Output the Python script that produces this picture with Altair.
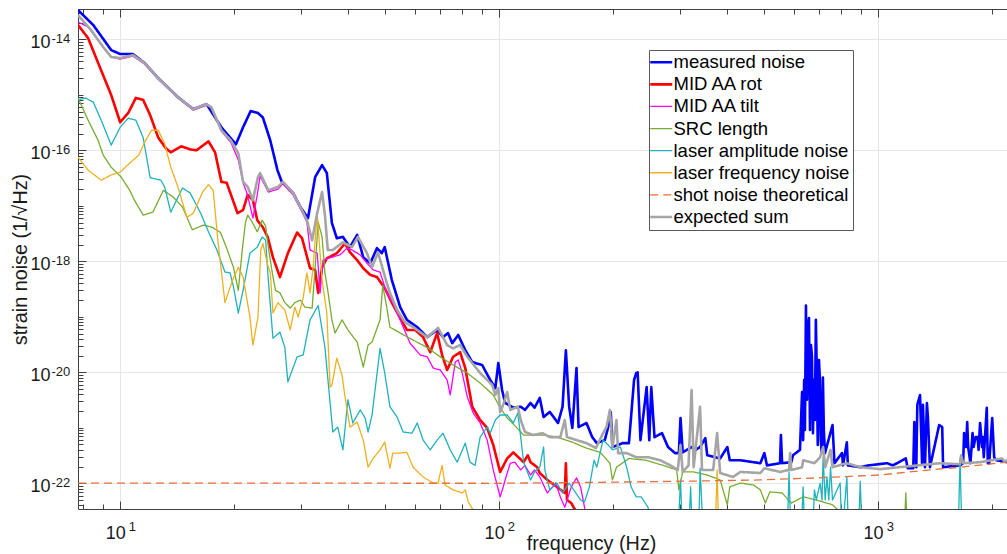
import altair as alt
import pandas as pd

# ---------------- data (frequency in Hz, strain noise in 1/sqrt(Hz)) ----------------
measured_noise = [
    (7.74, 3.37e-14), (8.49, 1.81e-14), (9.47, 6.4e-15), (10.0, 5.43e-15), (10.8, 5.43e-15), (11.6, 3.74e-15),
    (12.6, 2.0e-15), (14.2, 9.1e-16), (15.6, 5.5e-16), (16.9, 6.8e-16), (18.5, 2.6e-16), (20.2, 1.28e-16),
    (21.1, 2.6e-16), (22.1, 5.1e-16), (23.1, 4.7e-16), (23.8, 3.9e-16), (24.9, 1.5e-16), (26.0, 4.4e-17),
    (26.7, 2.7e-17), (28.6, 1.7e-17), (29.9, 9.5e-18), (31.3, 6.0e-18), (32.7, 3.3e-17), (34.1, 5.4e-17),
    (35.1, 3.9e-17), (36.2, 4.9e-18), (37.3, 2.6e-18), (38.7, 2.75e-18), (40.4, 1.8e-18), (42.2, 3.0e-18),
    (43.8, 1.18e-18), (45.7, 9.2e-19), (47.6, 1.73e-18), (49.0, 1.4e-18), (49.9, 1.8e-18), (52.1, 4.6e-19),
    (54.8, 1.5e-19), (57.1, 8.8e-20), (60.8, 6.5e-20), (64.6, 4.3e-20), (68.6, 5.8e-20), (71.1, 4.3e-20),
    (73.3, 5.1e-20), (75.2, 3.35e-20), (78.0, 4.7e-20), (81.4, 2.5e-20), (84.9, 1.53e-20), (90.2, 1.35e-20),
    (94.7, 7.3e-21), (97.7, 5.2e-21), (99.5, 1.47e-20), (101.8, 4.8e-21), (103.7, 2.8e-21), (109, 2.3e-21),
    (114, 2.4e-21), (117, 2.1e-21), (121, 2.8e-21), (124, 2.3e-21), (128, 3.45e-21), (131, 1.56e-21),
    (136, 1.93e-21), (143, 1.22e-21), (147, 2.4e-21), (150, 2.5e-20), (153, 2.4e-21), (156, 9.9e-22),
    (160, 1.19e-20), (162, 1.03e-21), (170, 1.22e-21), (176, 6.8e-22), (181, 5.3e-22), (190, 6.0e-22),
    (194, 1.03e-21), (197, 1.93e-21), (199, 4.5e-22), (212, 5.3e-22), (220, 5.3e-22), (227, 7.3e-21),
    (230, 9.7e-21), (232, 1.0e-20), (236, 6.0e-22), (245, 5.4e-21), (249, 6.0e-22), (252, 5.4e-21),
    (257, 6.8e-22), (269, 8.0e-22), (279, 4.5e-22), (291, 3.5e-22), (298, 3.5e-22), (301, 1.5e-21),
    (305, 3.6e-22), (322, 4.5e-22), (330, 4.0e-22), (339, 4.5e-22), (350, 6.5e-22), (354, 3.2e-22),
    (371, 2.95e-22), (383, 2.8e-22), (400, 4.5e-22), (406, 2.6e-22), (433, 2.6e-22), (489, 2.3e-22),
    (501, 3.5e-22), (509, 2.1e-22), (551, 2.3e-22), (554, 7.4e-22), (558, 2.3e-22), (590, 2.4e-22),
    (596, 3.2e-22), (622, 4.0e-22), (626, 1.38e-21), (630, 4.4e-21), (634, 6.0e-22), (638, 7.3e-21),
    (641, 9.1e-22), (645, 1.6e-19), (649, 3.2e-21), (653, 5.8e-20), (657, 9.5e-20), (661, 9.1e-22),
    (665, 3.1e-20), (669, 1.9e-20), (673, 8.0e-22), (677, 7.3e-21), (681, 1.38e-21), (685, 8.8e-20),
    (689, 9.7e-21), (693, 4.9e-22), (698, 1.67e-20), (702, 7.3e-21), (706, 6.0e-22), (710, 3.5e-22),
    (715, 8.0e-21), (719, 9.1e-22), (724, 3.5e-22), (758, 1.12e-21), (767, 2.3e-22), (803, 3.5e-22),
    (808, 2.1e-22), (827, 5.5e-22), (832, 2.1e-22), (897, 1.95e-22), (943, 2.1e-22), (1056, 2.3e-22),
    (1094, 2.1e-22), (1183, 2.8e-22), (1197, 1.87e-22), (1238, 1.87e-22), (1246, 1.27e-21), (1261, 1.95e-22),
    (1269, 2.6e-21), (1290, 3.9e-21), (1306, 2.3e-22), (1313, 2.6e-21), (1329, 1.95e-22), (1345, 2.8e-21),
    (1353, 1.56e-21), (1370, 1.95e-22), (1449, 1.12e-21), (1476, 1.03e-21), (1484, 1.95e-22), (1645, 2.1e-22),
    (1676, 2.3e-22), (1686, 8.0e-22), (1707, 4.5e-22), (1718, 1.27e-21), (1728, 4.5e-22), (1752, 2.3e-22),
    (1775, 8.0e-22), (1786, 4.5e-22), (1808, 6.8e-22), (1830, 6.8e-22), (1841, 4.0e-22), (1858, 1.22e-21),
    (1880, 4.5e-22), (1889, 6.8e-22), (1900, 2.95e-22), (1935, 2.3e-21), (1947, 2.3e-22), (1964, 2.3e-22),
    (2000, 1.5e-21), (2024, 2.95e-22), (2049, 2.6e-22), (2188, 2.4e-22),
]

mid_aa_rot = [
    (7.74, 1.81e-14), (8.23, 1.05e-14), (8.75, 3.74e-15), (9.47, 9.9e-16), (10.0, 3.2e-16), (10.5, 4.7e-16),
    (11.0, 8.8e-16), (11.5, 8.1e-16), (12.0, 4.3e-16), (12.6, 1.7e-16), (13.2, 1.09e-16), (13.6, 9.2e-17),
    (14.5, 1.18e-16), (15.3, 1.04e-16), (15.9, 1.0e-16), (17.1, 1.45e-16), (17.8, 9.2e-17), (18.5, 2.7e-17),
    (19.1, 2.6e-17), (20.4, 7.4e-18), (21.1, 8.4e-18), (21.7, 1.57e-17), (22.4, 1.27e-17), (23.0, 5.5e-18),
    (23.8, 4.1e-18), (24.5, 2.75e-18), (25.3, 1.18e-18), (26.4, 5.2e-19), (27.7, 1.4e-18), (29.3, 3.3e-18),
    (30.2, 2.6e-18), (31.7, 7.5e-19), (32.7, 7.0e-19), (33.3, 2.7e-19), (34.1, 7.8e-19), (35.1, 1.13e-18),
    (37.3, 1.4e-18), (39.2, 2.1e-18), (40.4, 1.45e-18), (42.2, 1.05e-18), (43.8, 7.5e-19), (45.7, 5.7e-19),
    (47.6, 5.2e-19), (49.9, 3.3e-19), (52.1, 1.8e-19), (54.8, 9.5e-20), (57.1, 5.8e-20), (60.0, 5.8e-20),
    (63.0, 4.3e-20), (65.8, 2.3e-20), (68.6, 5.1e-20), (70.7, 2.05e-20), (72.9, 1.1e-20), (75.6, 1.9e-20),
    (78.9, 2.3e-20), (81.4, 1.19e-20), (84.9, 2.4e-21), (89.1, 1.38e-21), (93.0, 9.9e-22), (96.5, 4.9e-22),
    (100.6, 1.6e-22), (105, 2.8e-22), (109, 3.6e-22), (112.4, 2.95e-22), (116, 2.4e-22), (119, 3.2e-22),
    (121, 2.4e-22), (126, 1.95e-22), (128, 1.53e-22), (134, 1.15e-22), (142, 8.6e-23), (149, 6.7e-23),
    (150, 2.3e-22), (151, 5.0e-23), (155, 4.4e-23), (160, 3.0e-23), (173, 1e-23),
]

mid_aa_tilt = [
    (7.74, 2.05e-14), (8.23, 1.67e-14), (9.02, 7.26e-15), (9.47, 4.8e-15), (10.0, 4.4e-15), (10.8, 5.0e-15),
    (11.6, 3.6e-15), (12.6, 1.93e-15), (14.2, 8.8e-16), (15.6, 5.3e-16), (16.9, 6.5e-16), (17.4, 5.8e-16),
    (18.5, 2.2e-16), (19.6, 1.39e-16), (20.5, 6.7e-17), (21.1, 2.6e-17), (21.6, 1.7e-17), (22.0, 1.03e-17),
    (22.4, 6.0e-18), (23.0, 1.57e-17), (23.4, 3.45e-17), (24.6, 1.77e-17), (26.1, 2.0e-17), (26.9, 2.5e-17),
    (28.6, 1.57e-17), (29.9, 8.8e-18), (31.1, 5.1e-18), (31.7, 1.6e-18), (33.1, 1.4e-18), (33.7, 2.7e-19),
    (34.3, 1.05e-18), (35.3, 1.13e-18), (38.0, 1.3e-18), (39.7, 1.73e-18), (40.9, 1.6e-18), (43.0, 1.3e-18),
    (44.8, 9.2e-19), (46.5, 7.0e-19), (48.5, 6.4e-19), (50.5, 2.7e-19), (52.4, 1.8e-19), (54.8, 8.8e-20),
    (58.2, 3.35e-20), (61.9, 2.05e-20), (64.6, 1.9e-20), (67.0, 1.19e-20), (69.9, 1.1e-20), (72.9, 7.3e-21),
    (74.3, 3.9e-21), (76.6, 1.53e-20), (78.0, 1.67e-20), (79.9, 9.7e-21), (82.4, 3.6e-21), (85.4, 1.85e-21),
    (89.1, 1.22e-21), (93.0, 6.0e-22), (96.5, 1.74e-22), (100.6, 5.7e-23), (102.5, 8.6e-23), (103.7, 1.15e-22),
    (107, 2.3e-22), (110, 2.4e-22), (114, 1.74e-22), (117, 2.1e-22), (121, 1.41e-22), (124, 1.74e-22),
    (128, 1.3e-22), (134, 6.7e-23), (141, 1.01e-22), (145, 5.7e-23), (149, 3.7e-23), (155, 8.6e-23),
    (160, 1.25e-22), (164, 8.6e-23), (168, 3.7e-23), (173, 1e-23),
]

src_length = [
    (7.74, 8.8e-16), (8.23, 3.5e-16), (8.75, 1.5e-16), (9.02, 8.2e-17), (9.47, 4.96e-17), (10.06, 3.3e-17),
    (10.6, 1.9e-17), (10.9, 1.27e-17), (11.5, 6.8e-18), (12.2, 7.7e-18), (13.0, 1.9e-17), (13.8, 1.44e-17),
    (14.6, 9.5e-18), (15.5, 3.7e-18), (16.6, 4.5e-18), (17.5, 4.1e-18), (18.4, 3.3e-18), (19.1, 1.73e-18),
    (19.9, 7.8e-19), (20.5, 3.0e-19), (21.0, 1.6e-18), (21.4, 4.9e-18), (21.7, 6.8e-18), (22.3, 5.1e-18),
    (23.0, 3.4e-18), (23.7, 5.5e-18), (24.2, 4.3e-18), (24.6, 1.8e-18), (25.2, 6.2e-19), (25.7, 3.0e-19),
    (26.4, 2.7e-19), (27.2, 1.8e-19), (28.1, 1.43e-19), (28.9, 1.8e-19), (29.9, 2.0e-19), (30.7, 1.5e-19),
    (32.1, 1.43e-19), (32.7, 7.8e-19), (33.3, 5.1e-18), (34.1, 2.75e-18), (34.7, 6.2e-19), (35.3, 3.0e-19),
    (36.2, 8.8e-20), (36.9, 5.1e-20), (38.5, 8.8e-20), (39.9, 5.8e-20), (42.2, 3.5e-20), (43.8, 1.24e-20),
    (45.1, 3.1e-20), (46.2, 3.5e-20), (48.5, 8.8e-20), (49.3, 3.7e-19), (50.5, 1.5e-19), (51.5, 6.5e-20),
    (54.8, 5.1e-20), (59.3, 3.8e-20), (64.6, 2.8e-20), (69.9, 1.9e-20), (75.6, 1.35e-20), (82.4, 9.7e-21),
    (89.1, 6.4e-21), (96.5, 3.9e-21), (100.6, 2.3e-21), (105, 1.5e-21), (109, 1.17e-21), (116, 7.4e-22),
    (131, 7.4e-22), (142, 6.8e-22), (156, 5.5e-22), (170, 4.3e-22), (185, 3.6e-22), (196, 2.3e-22),
    (199, 1.15e-22), (204, 1.95e-22), (220, 2.8e-22), (244, 2.6e-22), (271, 2.1e-22), (294, 1.74e-22),
    (298, 7.6e-23), (305, 1.6e-22), (326, 1.6e-22), (354, 1.41e-22), (383, 1.15e-22), (400, 4.1e-23),
    (406, 8.6e-23), (433, 1.01e-22), (469, 9.3e-23), (489, 7.6e-23), (504, 4.4e-23), (518, 7.0e-23),
    (558, 6.7e-23), (590, 4.4e-23), (634, 5.7e-23), (687, 5.0e-23), (758, 4.1e-23), (803, 2.8e-23),
    (845, 1e-23), (1170, 1e-23), (1183, 6.7e-23), (1197, 1e-23), (2188, 1e-23),
]

laser_amplitude = [
    (7.74, 8.1e-16), (8.09, 8.8e-16), (8.49, 7.4e-16), (8.91, 3.5e-16), (9.47, 1.24e-16), (10.0, 2.6e-16),
    (10.5, 3.8e-16), (11.0, 3.5e-16), (11.5, 1.7e-16), (12.0, 3.2e-17), (12.8, 2.9e-17), (13.1, 2.2e-17),
    (13.6, 7.7e-18), (14.6, 2.1e-17), (15.3, 1.7e-17), (16.3, 7.4e-18), (17.1, 3.4e-18), (18.0, 1.6e-18),
    (18.9, 6.4e-19), (19.5, 6.2e-19), (19.9, 3.5e-19), (20.5, 1.17e-19), (21.1, 3.0e-19), (22.0, 1.4e-18),
    (23.0, 1.8e-18), (23.7, 2.75e-18), (24.2, 2.4e-18), (24.6, 4.6e-19), (25.3, 4.1e-20), (26.4, 5.3e-20),
    (27.2, 2.8e-20), (27.7, 6.7e-21), (29.3, 1.9e-20), (30.4, 2.05e-20), (31.7, 8.8e-20), (33.3, 1.6e-19),
    (34.7, 2.8e-20), (36.4, 8.4e-22), (37.5, 1.03e-21), (38.7, 4.0e-22), (39.9, 3.2e-21), (41.1, 1.22e-21),
    (43.0, 2.1e-21), (44.3, 1.5e-21), (45.1, 8.4e-22), (46.2, 1.7e-21), (48.5, 2.7e-20), (49.9, 9.7e-21),
    (51.5, 2.4e-21), (53.8, 1.56e-21), (55.8, 8.4e-22), (58.9, 8.0e-22), (60.8, 1.22e-21), (63.0, 6.0e-22),
    (65.8, 4.0e-22), (68.6, 6.0e-22), (71.1, 8.0e-22), (74.3, 4.0e-22), (77.5, 2.4e-22), (81.4, 5.3e-22),
    (83.8, 2.4e-22), (86.4, 2.1e-22), (89.1, 6.8e-22), (93.0, 1.03e-21), (94.7, 8.0e-22), (97.7, 1.38e-21),
    (100.6, 1.7e-21), (105, 1.7e-21), (109, 1.22e-21), (112, 1.85e-21), (114, 6.8e-22), (116, 2.4e-22),
    (121, 1.15e-22), (124, 1.6e-22), (128, 1.95e-22), (131, 4.5e-22), (132, 1.74e-22), (136, 7.6e-23),
    (142, 1.01e-22), (147, 6.7e-23), (153, 1.01e-22), (164, 5.0e-23), (168, 4.6e-23), (173, 8.6e-23),
    (178, 2.6e-22), (181, 1.95e-22), (188, 6.0e-22), (194, 4.9e-22), (199, 4.0e-22), (209, 4.5e-22),
    (217, 1.95e-22), (223, 8.6e-23), (230, 5.7e-23), (237, 5.7e-23), (247, 3.7e-23), (258, 1e-23),
    (296, 1e-23), (301, 1.15e-22), (305, 1e-23), (316, 1e-23), (320, 8.6e-23), (324, 1e-23), (336, 1e-23),
    (339, 1.87e-22), (346, 1e-23), (575, 1e-23), (582, 1.6e-22), (589, 1e-23), (626, 1e-23), (634, 8.6e-23),
    (641, 1e-23), (671, 1e-23), (679, 7.6e-23), (687, 5.0e-23), (703, 1.01e-22), (711, 5.0e-23),
    (716, 2.95e-22), (725, 5.0e-23), (733, 1.3e-22), (741, 5.0e-23), (749, 1.95e-22), (758, 5.0e-23),
    (794, 1.01e-22), (803, 1e-23), (827, 1.3e-22), (836, 1e-23), (886, 1e-23), (897, 1.08e-22), (908, 1e-23),
    (1625, 1e-23), (1645, 2.8e-22), (1665, 1e-23), (2188, 1e-23),
]

laser_frequency = [
    (7.74, 7.5e-17), (8.23, 4.4e-17), (8.91, 2.9e-17), (9.47, 3.6e-17), (10.0, 4.05e-17), (10.6, 5.9e-17),
    (11.2, 8.2e-17), (11.6, 1.39e-16), (12.1, 2.3e-16), (12.6, 2.3e-16), (13.1, 1.33e-16), (13.6, 4.96e-17),
    (14.2, 2.2e-17), (15.0, 6.2e-18), (15.6, 7.4e-18), (16.5, 1.77e-17), (17.1, 2.4e-17), (17.6, 1.9e-17),
    (18.1, 2.4e-18), (18.9, 1.8e-19), (19.8, 4.6e-19), (20.5, 7.8e-19), (21.1, 5.2e-19), (22.0, 9.9e-20),
    (22.4, 3.1e-20), (23.1, 9.9e-20), (23.5, 1.6e-18), (23.8, 2.1e-18), (24.5, 8.6e-19), (24.9, 6.2e-19),
    (25.3, 1.17e-19), (26.1, 1.8e-19), (26.7, 1.5e-19), (27.2, 1.33e-19), (28.1, 5.8e-20), (28.9, 1.5e-19),
    (29.5, 9.9e-20), (30.4, 2.2e-19), (31.1, 6.2e-19), (31.7, 2.7e-19), (32.3, 7.8e-19), (33.1, 7.4e-18),
    (33.3, 4.1e-18), (34.1, 4.6e-19), (35.1, 1.17e-19), (35.8, 5.4e-21), (36.2, 5.9e-21), (37.3, 1.8e-20),
    (38.5, 8.9e-21), (39.2, 3.6e-21), (40.4, 1.03e-21), (42.2, 1.27e-21), (43.8, 6.0e-22), (45.1, 1.95e-22),
    (46.5, 2.8e-22), (48.5, 4.0e-22), (49.9, 5.5e-22), (51.5, 1.87e-22), (52.4, 3.5e-22), (54.8, 3.5e-22),
    (57.1, 3.6e-22), (59.3, 1.95e-22), (63.0, 1.3e-22), (67.0, 1.01e-22), (69.0, 1.01e-22), (70.7, 2.1e-22),
    (72.0, 9.3e-23), (75.6, 7.6e-23), (79.9, 6.7e-23), (81.4, 7.6e-23), (82.9, 4.6e-23), (85.4, 3.3e-23),
    (89.1, 1e-23), (371, 1e-23), (376, 1.74e-22), (380, 1e-23), (2188, 1e-23),
]

shot_noise = [
    (7.74, 1.01e-22), (100.6, 1.0e-22), (185, 1.04e-22), (339, 1.1e-22), (489, 1.15e-22), (687, 1.25e-22),
    (1006, 1.41e-22), (1290, 1.67e-22), (1645, 1.95e-22), (2188, 2.4e-22),
]

expected_sum = [
    (7.74, 2.74e-14), (8.38, 1.47e-14), (9.02, 7.26e-15), (9.47, 4.8e-15), (10.0, 4.6e-15), (10.8, 5.2e-15),
    (11.6, 3.74e-15), (12.6, 2.0e-15), (14.2, 9.1e-16), (15.6, 5.5e-16), (16.9, 6.8e-16), (17.4, 6.0e-16),
    (18.5, 2.3e-16), (19.6, 1.5e-16), (20.5, 8.8e-17), (21.1, 2.7e-17), (21.7, 2.2e-17), (22.4, 1.27e-17),
    (23.1, 3.3e-17), (23.4, 3.9e-17), (24.6, 1.9e-17), (26.1, 2.2e-17), (26.9, 2.7e-17), (28.6, 1.7e-17),
    (29.9, 9.5e-18), (31.1, 5.5e-18), (32.1, 2.4e-18), (33.1, 7.4e-18), (34.1, 1.77e-17), (34.7, 6.8e-18),
    (35.3, 1.6e-18), (36.4, 1.6e-18), (38.7, 2.2e-18), (40.9, 1.8e-18), (42.4, 2.75e-18), (44.8, 1.4e-18),
    (46.2, 7.8e-19), (47.9, 1.45e-18), (50.5, 4.1e-19), (51.5, 2.7e-19), (53.8, 1.33e-19), (56.4, 8.0e-20),
    (59.3, 6.5e-20), (64.6, 4.3e-20), (69.0, 6.3e-20), (72.9, 3.1e-20), (75.6, 2.7e-20), (78.9, 3.1e-20),
    (82.4, 1.9e-20), (89.1, 9.7e-21), (95.9, 5.9e-21), (97.7, 3.9e-21), (99.5, 5.2e-21), (100.6, 1.93e-21),
    (102.5, 2.6e-21), (105, 4.4e-21), (107, 2.1e-21), (112, 2.4e-21), (114, 1.38e-21), (117, 8.4e-22),
    (123, 7.4e-22), (130, 8.0e-22), (136, 6.8e-22), (145, 6.8e-22), (149, 1.38e-21), (151, 6.8e-22),
    (160, 6.0e-22), (170, 5.3e-22), (180, 4.3e-22), (188, 8.0e-22), (192, 1.03e-21), (196, 2.1e-21),
    (199, 4.5e-22), (204, 1.38e-21), (206, 3.5e-22), (217, 3.5e-22), (230, 2.95e-22), (247, 2.95e-22),
    (266, 2.6e-22), (283, 2.1e-22), (296, 1.74e-22), (301, 4.9e-22), (305, 1.6e-22), (316, 2.1e-22),
    (322, 4.8e-21), (326, 1.95e-22), (339, 2.4e-21), (343, 1.74e-22), (367, 1.74e-22), (376, 8.0e-22),
    (383, 1.53e-22), (414, 1.3e-22), (433, 1.6e-22), (489, 1.53e-22), (501, 1.87e-22), (551, 1.6e-22),
    (582, 1.74e-22), (586, 3.5e-22), (590, 1.74e-22), (630, 1.95e-22), (634, 2.6e-22), (679, 2.3e-22),
    (703, 2.95e-22), (716, 4.5e-22), (725, 1.95e-22), (749, 4.0e-22), (758, 1.95e-22), (827, 2.3e-22),
    (897, 1.95e-22), (1012, 1.8e-22), (1183, 2.0e-22), (1458, 2.3e-22), (1645, 2.2e-22), (1656, 3.2e-22),
    (1676, 2.3e-22), (1858, 2.4e-22), (2124, 2.8e-22), (2150, 2.5e-22), (2188, 2.6e-22),
]

series_names = [
    "measured noise", "MID AA rot", "MID AA tilt", "SRC length",
    "laser amplitude noise", "laser frequency noise", "shot noise theoretical", "expected sum",
]
series_points = [
    measured_noise, mid_aa_rot, mid_aa_tilt, src_length,
    laser_amplitude, laser_frequency, shot_noise, expected_sum,
]
series_colors = ["#0000FF", "#FF0000", "#FF00FF", "#77AC30", "#1FB2BC", "#EDB120", "#E3703D", "#A5A5A5"]
series_widths = [2.6, 2.6, 1.3, 1.3, 1.3, 1.3, 1.3, 2.6]
series_dashes = [[1, 0], [1, 0], [1, 0], [1, 0], [1, 0], [1, 0], [8, 5], [1, 0]]

x_major = [10, 100, 1000]
x_minor = [8, 9, 20, 30, 40, 50, 60, 70, 80, 90, 200, 300, 400, 500, 600, 700, 800, 900, 2000]
y_major = [1e-22, 1e-20, 1e-18, 1e-16, 1e-14]
y_minor = [m * 10.0 ** k for k in range(-23, -13) for m in range(1, 10)
           if 3.44e-23 <= m * 10.0 ** k <= 3.52e-14 and not (m == 1 and k % 2 == 0)]

rows = []
for name, pts in zip(series_names, series_points):
    for i, (f, v) in enumerate(pts):
        rows.append({"series": name, "f": f, "v": v, "i": i})
df = pd.DataFrame(rows)

FONT = "Liberation Sans"
AXC = "#404040"
TXT = "#1a1a1a"
xscale = alt.Scale(type="log", domain=[7.74, 2188], nice=False)
yscale = alt.Scale(type="log", domain=[3.44e-23, 3.52e-14], nice=False)

legend = alt.Legend(
    orient="none", legendX=571, legendY=41, fillColor="white", strokeColor="#595959",
    padding=3, rowPadding=3.1, symbolType="stroke", symbolSize=484, labelFont=FONT,
    labelFontSize=18.5, labelColor="black", labelOffset=3, labelLimit=0,
    symbolStrokeWidth={"expr": "indexof(['measured noise','MID AA rot','expected sum'], datum.value) >= 0 ? 2.6 : 1.3"},
)
color_enc = alt.Color("series:N", scale=alt.Scale(domain=series_names, range=series_colors),
                      legend=legend, title=None)
dash_enc = alt.StrokeDash("series:N", scale=alt.Scale(domain=series_names, range=series_dashes),
                          legend=legend, title=None)

layers = []
for name, w in zip(series_names, series_widths):
    layers.append(
        alt.Chart(df).transform_filter(alt.datum.series == name)
        .mark_line(clip=True, strokeWidth=w, strokeJoin="round")
        .encode(
            x=alt.X("f:Q", scale=xscale, axis=None),
            y=alt.Y("v:Q", scale=yscale, axis=None),
            order="i:Q",
            color=color_enc,
            strokeDash=dash_enc,
        )
    )

ax_src = df[df.series == "shot noise theoretical"]


def axis_layer(xaxis=None, yaxis=None):
    enc_x = alt.X("f:Q", scale=xscale, axis=xaxis, title=None) if xaxis is not None else alt.X("f:Q", scale=xscale, axis=None)
    enc_y = alt.Y("v:Q", scale=yscale, axis=yaxis, title=None) if yaxis is not None else alt.Y("v:Q", scale=yscale, axis=None)
    return alt.Chart(ax_src).mark_point(opacity=0).encode(x=enc_x, y=enc_y)


x_exp_expr = "datum.value < 50 ? '1' : datum.value < 500 ? '2' : '3'"
y_exp_expr = ("datum.value < 1e-21 ? '-22' : datum.value < 1e-19 ? '-20' : "
              "datum.value < 1e-17 ? '-18' : datum.value < 1e-15 ? '-16' : '-14'")

main_x = alt.Axis(orient="bottom", values=x_major, labelExpr="'10'", grid=True, gridColor="#E6E6E6",
                  ticks=False, tickSize=0, domain=True, domainColor=AXC, labelFont=FONT, labelFontSize=18,
                  labelColor=TXT, labelPadding=29, labelBaseline="alphabetic", labelAlign="right", labelOffset=5,
                  labelFlush=False, labelOverlap=False,
                  title="frequency (Hz)", titleFont=FONT, titleFontSize=19.8, titleFontWeight="normal",
                  titleColor=TXT, titleX=513, titleY=40, titleAlign="center", titleBaseline="alphabetic")
exp_x = alt.Axis(orient="bottom", values=x_major, labelExpr=x_exp_expr, grid=False, ticks=False, tickSize=0,
                 domain=False, labelFont=FONT, labelFontSize=13, labelColor=TXT, labelPadding=21,
                 labelBaseline="alphabetic", labelAlign="left", labelOffset=8, labelFlush=False, labelOverlap=False)
main_y = alt.Axis(orient="left", values=y_major, labelExpr="'10'", grid=True, gridColor="#E6E6E6",
                  ticks=False, tickSize=0, domain=True, domainColor=AXC, labelFont=FONT, labelFontSize=18,
                  labelColor=TXT, labelPadding=28, labelBaseline="alphabetic", labelAlign="right", labelOffset=8.5,
                  labelFlush=False, labelOverlap=False,
                  title="strain noise (1/√Hz)", titleFont=FONT, titleFontSize=19.8, titleFontWeight="normal",
                  titleColor=TXT, titleX=-52, titleY=250, titleAngle=270, titleAlign="center",
                  titleBaseline="alphabetic")
exp_y = alt.Axis(orient="left", values=y_major, labelExpr=y_exp_expr, grid=False, ticks=False, tickSize=0,
                 domain=False, labelFont=FONT, labelFontSize=13, labelColor=TXT, labelPadding=27,
                 labelBaseline="alphabetic", labelAlign="left", labelOffset=3, labelFlush=False, labelOverlap=False)


def tick_axis(orient, values, size):
    return alt.Axis(orient=orient, values=values, offset=-size, tickSize=size, ticks=True, tickColor=AXC,
                    labels=False, domain=False, grid=False)


top_domain = alt.Axis(orient="top", values=x_major, ticks=False, labels=False, domain=True,
                      domainColor=AXC, grid=False)

axis_layers = [
    alt.Chart(ax_src).mark_point(opacity=0).encode(
        x=alt.X("f:Q", scale=xscale, axis=main_x), y=alt.Y("v:Q", scale=yscale, axis=main_y)),
    axis_layer(xaxis=exp_x),
    axis_layer(yaxis=exp_y),
    axis_layer(xaxis=tick_axis("bottom", x_major, 8)),
    axis_layer(xaxis=tick_axis("bottom", x_minor, 5)),
    axis_layer(xaxis=tick_axis("top", x_major, 8)),
    axis_layer(xaxis=tick_axis("top", x_minor, 5)),
    axis_layer(xaxis=top_domain),
    axis_layer(yaxis=tick_axis("left", y_major, 8)),
    axis_layer(yaxis=tick_axis("left", y_minor, 5)),
]

chart = (
    alt.layer(*axis_layers, *layers)
    .resolve_axis(x="independent", y="independent")
    .properties(width=929, height=500, autosize=alt.AutoSizeParams(type="none"),
                padding={"left": 78, "top": 9, "right": 0, "bottom": 45})
    .configure_view(stroke="transparent")
    .configure(background="white", font=FONT)
)

chart.save("out.html", embed_options={"renderer": "svg", "actions": False})
